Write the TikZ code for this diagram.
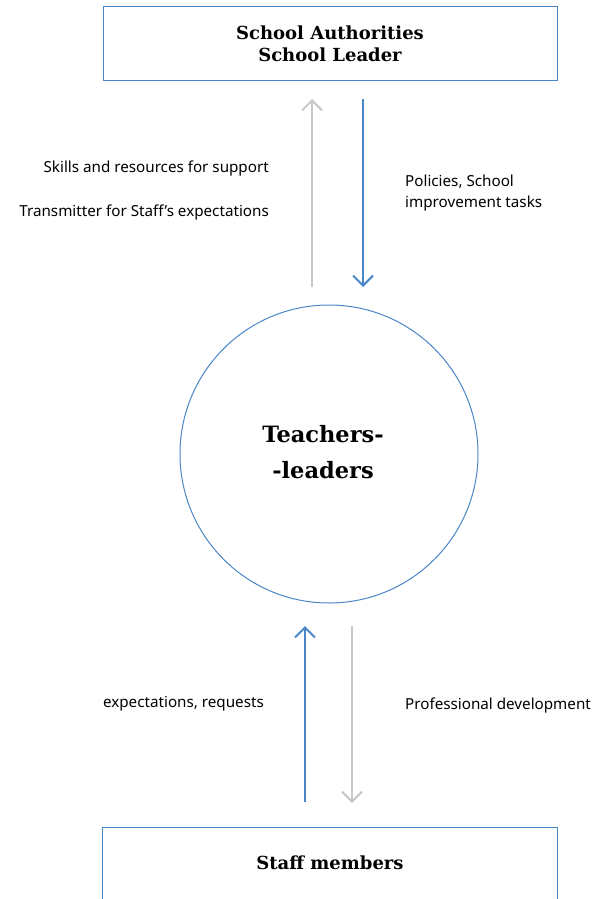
\documentclass[tikz,border=0pt]{standalone}
\usepackage{fontspec}
\setmainfont{DejaVu Serif}
\setsansfont{Noto Sans}
\usetikzlibrary{arrows.meta}

\definecolor{lineblue}{HTML}{4A86C8}
\definecolor{linegray}{HTML}{C8C8C8}

\tikzset{
	box/.style={draw=lineblue, line width=1pt, minimum width=454pt, inner sep=0pt},
	title/.style={font=\bfseries\fontsize{18}{22}\selectfont, align=center},
	lbl/.style={font=\sffamily\fontsize{15.2}{21}\selectfont, inner sep=0pt},
	bluearrow/.style={draw=lineblue, line width=2pt, -{Straight Barb[length=10pt,width=20pt,line width=2pt]}},
	grayarrow/.style={draw=linegray, line width=2pt, -{Straight Barb[length=10pt,width=20pt,line width=2pt]}}
}

\begin{document}
\begin{tikzpicture}[x=1pt, y=-1pt]
	\useasboundingbox (0,0) rectangle (595,899);
	
	\node[box, minimum height=73pt, title] (auth) at (330, 43.5) {School Authorities\\School Leader};
	\node[draw=lineblue, line width=1pt, circle, minimum size=298pt] (tl) at (329, 454) {};
	\node[font=\bfseries\fontsize{22.5}{36}\selectfont, align=center] (tltext) at (323, 452) {Teachers-\\-leaders};
	\node[minimum width=454pt, minimum height=71pt, inner sep=0pt] (staff) at (330, 863.5) {};
	\node[title] (stafftext) at (330, 863) {Staff members};
	\draw[lineblue, line width=1pt] (staff.south west) -- (staff.north west) -- (staff.north east) -- (staff.south east);
	
	\coordinate (a1) at (312, 287);
	\coordinate (a2) at (312, 99);
	\coordinate (b1) at (363, 99);
	\coordinate (b2) at (363, 287);
	\coordinate (c1) at (305, 802);
	\coordinate (c2) at (305, 626);
	\coordinate (d1) at (352, 626);
	\coordinate (d2) at (352, 803);
	
	\draw[grayarrow] (a1) -- (a2);
	\draw[bluearrow] (b1) -- (b2);
	\draw[bluearrow] (c1) -- (c2);
	\draw[grayarrow] (d1) -- (d2);
	
	\node[lbl, anchor=east] (skills) at (269, 169) {Skills and resources for support};
	\node[lbl, anchor=east] (transm) at (269, 213) {Transmitter for Staff{\char"0027}s expectations};
	\node[lbl, anchor=west, align=left] (policies) at (405, 193) {Policies, School\\improvement tasks};
	\node[lbl, anchor=east] (expect) at (264, 704) {expectations, requests};
	\node[lbl, anchor=west] (profdev) at (405, 706) {Professional development};
	
\end{tikzpicture}
\end{document}
